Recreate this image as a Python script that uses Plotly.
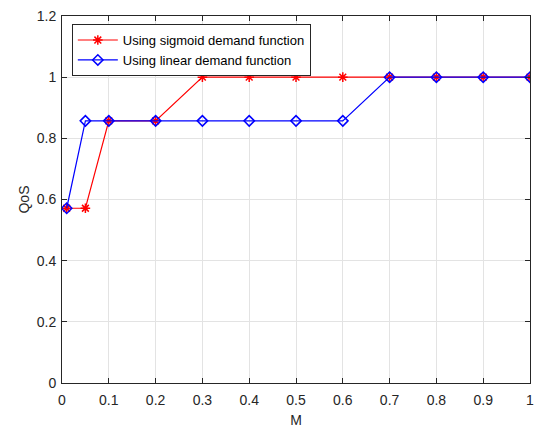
import plotly.graph_objects as go

M = [0.01, 0.05, 0.1, 0.2, 0.3, 0.4, 0.5, 0.6, 0.7, 0.8, 0.9, 1.0]
qos_sigmoid = [0.5714, 0.5714, 0.8571, 0.8571, 1, 1, 1, 1, 1, 1, 1, 1]
qos_linear = [0.5714, 0.8571, 0.8571, 0.8571, 0.8571, 0.8571, 0.8571, 0.8571, 1, 1, 1, 1]
x_ticks = [0, 0.1, 0.2, 0.3, 0.4, 0.5, 0.6, 0.7, 0.8, 0.9, 1]
x_ticktext = ["0", "0.1", "0.2", "0.3", "0.4", "0.5", "0.6", "0.7", "0.8", "0.9", "1"]
y_ticks = [0, 0.2, 0.4, 0.6, 0.8, 1.0, 1.2]
y_ticktext = ["0", "0.2", "0.4", "0.6", "0.8", "1", "1.2"]

fig = go.Figure()
fig.add_trace(go.Scatter(
    x=M, y=qos_sigmoid, mode="lines+markers",
    name="Using sigmoid demand function",
    line=dict(color="#ff0000", width=1.2),
    marker=dict(symbol="asterisk-open", size=8, color="#ff0000",
                line=dict(color="#ff0000", width=1.5)),
))
fig.add_trace(go.Scatter(
    x=M, y=qos_linear, mode="lines+markers",
    name="Using linear demand function",
    line=dict(color="#0000ff", width=1.2),
    marker=dict(symbol="diamond-open", size=8, color="#0000ff",
                line=dict(color="#0000ff", width=1.5)),
))

axis_common = dict(
    showline=True, linecolor="#262626", linewidth=1, mirror="ticks",
    ticks="inside", ticklen=5, tickcolor="#262626",
    showgrid=True, gridcolor="#e3e3e3", gridwidth=1, zeroline=False,
    automargin=False,
    tickfont=dict(family="Liberation Sans, Arial, sans-serif", size=14, color="#262626"),
)

fig.update_layout(
    width=538, height=428,
    margin=dict(l=62, r=8, t=16, b=45),
    paper_bgcolor="white", plot_bgcolor="white",
    font=dict(family="Liberation Sans, Arial, sans-serif", size=14, color="#262626"),
    xaxis=dict(range=[0, 1], tickvals=x_ticks, ticktext=x_ticktext,
               ticklabelstandoff=4,
               title=dict(text="M", font=dict(size=14)), **axis_common),
    yaxis=dict(range=[0, 1.2], tickvals=y_ticks, ticktext=y_ticktext,
               ticklabelstandoff=2, **axis_common),
    legend=dict(x=0.021, y=0.978, xanchor="left", yanchor="top",
                bgcolor="white", bordercolor="#262626", borderwidth=1,
                font=dict(size=13, color="#000000"), tracegroupgap=0,
                itemwidth=40),
    showlegend=True,
    annotations=[dict(text="QoS", xref="paper", yref="paper", x=-0.0833, y=0.5,
                      xanchor="center", yanchor="middle", textangle=-90,
                      showarrow=False, font=dict(size=14, color="#262626"))],
)

fig.write_html("out.html")
